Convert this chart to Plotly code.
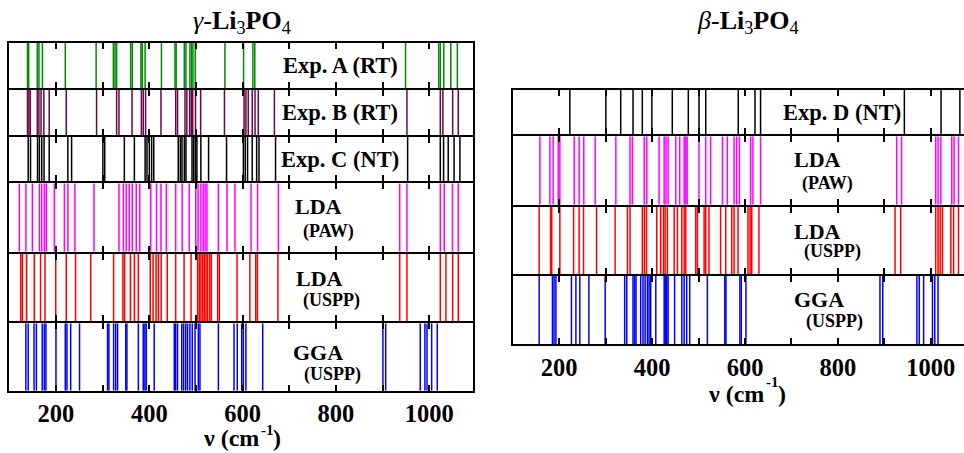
import plotly.graph_objects as go

# ---------------- data (cm^-1) ----------------
gamma_exp_a = [139, 141.5, 160, 163.5, 171, 220, 286, 323, 326.5, 330, 360, 363.5,
               382, 385, 391, 426, 455, 457.5, 475, 478.5, 487, 490.5, 493.5, 498.5,
               562, 602, 622, 626, 949, 1020, 1023.5, 1031, 1046, 1060]
gamma_exp_b = [139, 142, 145, 160, 163.5, 168, 174, 185.5, 222, 287, 330, 335, 363,
               383, 387, 392, 425, 456.5, 460.5, 476.5, 480.5, 486.5, 490, 493, 499,
               510, 561, 603, 607, 612, 620.5, 626.5, 633.5, 668, 952, 1023.5, 1029,
               1050, 1062]
gamma_exp_c = [140.5, 145.5, 160.5, 164.5, 169.5, 174.5, 185.5, 225.5, 233.5, 300.5,
               304.5, 346.5, 368, 391, 395, 400, 405, 409.5, 462, 466.5, 470, 475,
               478.5, 491.5, 495, 498.5, 502, 510.5, 527, 565.5, 601.5, 605.5, 610.5,
               620.5, 630, 635, 670.5, 953.5, 1023.5, 1030.5, 1040.5, 1053, 1065.5]
gamma_lda_paw = [121.5, 135.5, 149.5, 164.5, 169.5, 175.5, 179.5, 196.5, 218, 225.5,
                 240.5, 281.5, 335, 344.5, 350.5, 357, 363.5, 372, 379.5, 403, 415.5,
                 425, 436.5, 456.5, 470.5, 485.5, 499.5, 504.5, 510.5, 515.5, 519.5,
                 523.5, 548, 566.5, 583.5, 618, 632, 676.5, 936.5, 952, 1023.5, 1032,
                 1049.5, 1062]
gamma_lda_uspp = [124.5, 128, 137, 153.5, 167, 176.5, 199.5, 222, 242, 274.5, 323.5,
                  343.5, 347, 359.5, 368, 376.5, 402, 408, 414.5, 419.5, 425.5, 438.5,
                  456.5, 474.5, 489.5, 503.5, 507, 510.5, 514.5, 518, 521.5, 525, 529.5,
                  533, 546.5, 550, 588, 615.5, 628, 631.5, 675.5, 936.5, 952, 1023.5,
                  1035.5, 1050, 1062]
gamma_gga_uspp = [135.5, 140.5, 153, 158, 170.5, 175, 178.5, 200, 220, 223.5, 231.5,
                  250.5, 310.5, 313.5, 323.5, 328, 332, 349.5, 352, 376.5, 387, 390.5,
                  393.5, 410.5, 453.5, 456.5, 460.5, 469.5, 473.5, 478, 482, 487, 492,
                  498, 505, 508.5, 548, 581.5, 588.5, 598, 601.5, 607, 643, 900.5,
                  906.5, 980.5, 990.5, 995, 1005, 1017]

beta_exp_d = [223, 300.5, 332.5, 359, 379, 399.5, 443.5, 478, 501, 515.5, 585.5,
              621.5, 633.5, 943, 1022, 1062.5]
beta_lda_paw = [158.5, 180, 187, 198, 201.5, 232.5, 243, 253, 277.5, 322, 352.5,
                357.5, 383, 388.5, 415, 426, 430, 434.5, 451, 459.5, 469, 472.5, 475.5,
                501, 515.5, 526, 551.5, 562, 576.5, 582, 588, 612, 617, 633.5, 926.5,
                937, 1010.5, 1015.5, 1021.5, 1045, 1050, 1059.5]
beta_lda_uspp = [157, 181.5, 184, 201.5, 231, 243, 252.5, 280.5, 320.5, 347, 352.5,
                 379, 383.5, 388, 410, 418.5, 424.5, 428, 433, 447.5, 454.5, 464, 469,
                 472.5, 494, 497.5, 512, 515.5, 522.5, 547.5, 558.5, 571.5, 576.5, 585,
                 606.5, 611, 614.5, 630, 923, 935, 1010.5, 1015.5, 1020, 1025, 1043,
                 1049, 1059.5]
beta_gga_uspp = [157, 185.5, 189, 193, 226.5, 236, 244.5, 264, 299, 341, 345.5, 359,
                 362.5, 365.5, 375.5, 380.5, 385, 390, 393.5, 397, 408, 426, 428.5,
                 431.5, 434.5, 448.5, 464, 469, 474.5, 481, 519, 556.5, 559, 589, 592,
                 602, 890.5, 896.5, 970, 975, 984.5, 1003.5, 1008.5, 1015.5]

tick_vals = [100, 200, 300, 400, 500, 600, 700, 800, 900, 1000, 1100]
tick_text = ["", "200", "", "400", "", "600", "", "800", "", "1000", ""]

# ---------------- layout helpers ----------------
W, H = 964, 453
LW = 2.0          # frame line width
INSET = LW / 2    # plotly draws axis lines outside the domain -> inset so lines coincide
def xp(px): return px / W
def yp(py): return 1 - py / H

FONT = "Liberation Serif"
colors = {"green": "rgb(0,139,0)", "maroon": "rgb(103,7,72)", "black": "black",
          "magenta": "rgb(255,0,255)", "red": "rgb(255,0,0)", "blue": "rgb(0,0,255)"}

# (data, color, top px, bottom px, panel)
rows = [
    (gamma_exp_a, colors["green"], 42, 89, "L"),
    (gamma_exp_b, colors["maroon"], 89, 136, "L"),
    (gamma_exp_c, colors["black"], 136, 182.3, "L"),
    (gamma_lda_paw, colors["magenta"], 182.3, 252.7, "L"),
    (gamma_lda_uspp, colors["red"], 252.7, 322.3, "L"),
    (gamma_gga_uspp, colors["blue"], 322.3, 391.7, "L"),
    (beta_exp_d, colors["black"], 89, 135.3, "R"),
    (beta_lda_paw, colors["magenta"], 135.3, 205.7, "R"),
    (beta_lda_uspp, colors["red"], 205.7, 275, "R"),
    (beta_gga_uspp, colors["blue"], 275, 345.3, "R"),
]
L_left, L_right = 8.3 + INSET, 474 - INSET
R_left = 511.7 + INSET
panels = {
    "L": dict(dom=[xp(L_left), xp(L_right)],
              rng=[100, 100 + (L_right - L_left) / 0.4667], mirror=True, bottom=5),
    "R": dict(dom=[xp(R_left), 1.0],
              rng=[100, 100 + (W - R_left) / 0.4646], mirror=False, bottom=9),
}

fig = go.Figure()
layout = dict(width=W, height=H, margin=dict(l=0, r=0, t=0, b=0),
              paper_bgcolor="white", plot_bgcolor="white", showlegend=False)

for i, (vals, col, top, bot, pan) in enumerate(rows):
    n = i + 1
    xs, ys = [], []
    for v in vals:
        xs += [v, v, None]
        ys += [0, 1, None]
    fig.add_trace(go.Scatter(x=xs, y=ys, mode="lines", line=dict(color=col, width=1.5),
                             xaxis=f"x{n}", yaxis=f"y{n}", hoverinfo="skip"))
    p = panels[pan]
    is_bottom = (i == p["bottom"])
    layout[f"xaxis{n}" if n > 1 else "xaxis"] = dict(
        domain=p["dom"], range=p["rng"], anchor=f"y{n}",
        tickmode="array", tickvals=tick_vals, ticktext=tick_text,
        ticks="inside", ticklen=6, tickwidth=1.5, tickcolor="black",
        showline=True, linewidth=LW, linecolor="black", mirror="allticks",
        showgrid=False, zeroline=False, showticklabels=is_bottom,
        tickfont=dict(family=FONT, size=24.5, color="black", weight="bold"))
    layout[f"yaxis{n}" if n > 1 else "yaxis"] = dict(
        domain=[yp(bot - INSET), yp(top + INSET)], range=[0, 1], anchor=f"x{n}",
        showline=True, linewidth=LW, linecolor="black", mirror=p["mirror"],
        ticks="", showticklabels=False, showgrid=False, zeroline=False)

ann = []
def label(text, cx, cy, size, yanchor="middle", xanchor="center"):
    ann.append(dict(text=text, x=xp(cx), y=yp(cy), xref="paper", yref="paper",
                    xanchor=xanchor, yanchor=yanchor, showarrow=False, borderpad=0,
                    font=dict(family=FONT, size=size, color="black")))

label("<b>Exp. A (RT)</b>", 340, 65, 22.5)
label("<b>Exp. B (RT)</b>", 340, 113, 22.5)
label("<b>Exp. C (NT)</b>", 340, 159, 22.5)
label("<b>LDA</b>", 318, 206, 22)
label("<b>(PAW)</b>", 328, 232, 18)
label("<b>LDA</b>", 319, 278, 22)
label("<b>(USPP)</b>", 331, 300, 18)
label("<b>GGA</b>", 318, 352, 22)
label("<b>(USPP)</b>", 332, 374, 18)

label("<b>Exp. D (NT)</b>", 842, 113, 22.5)
label("<b>LDA</b>", 817, 159, 22)
label("<b>(PAW)</b>", 827, 183, 18)
label("<b>LDA</b>", 817, 231, 22)
label("<b>(USPP)</b>", 832, 252, 18)
label("<b>GGA</b>", 819, 313, 22, "bottom")
label("<b>(USPP)</b>", 834, 310, 18, "top")

label("<i>γ</i>-<b>Li</b><sub>3</sub><b>PO</b><sub>4</sub>", 242, 22, 26)
label("<i>β</i>-<b>Li</b><sub>3</sub><b>PO</b><sub>4</sub>", 748, 22, 26)

# x-axis titles: "ν (cm" + superscript "-1" + ")"
for (right_of_cm, cy, sup_cy) in [(260, 437.5, 429.5), (765, 393.5, 382)]:
    label("<b>ν (cm</b>", right_of_cm, cy, 24, xanchor="right")
    label("<b>-1</b>", right_of_cm - 0.5, sup_cy, 15, xanchor="left")
    label("<b>)</b>", right_of_cm + 12, cy, 24, xanchor="left")

layout["annotations"] = ann
fig.update_layout(**layout)
fig.write_html("out.html")
